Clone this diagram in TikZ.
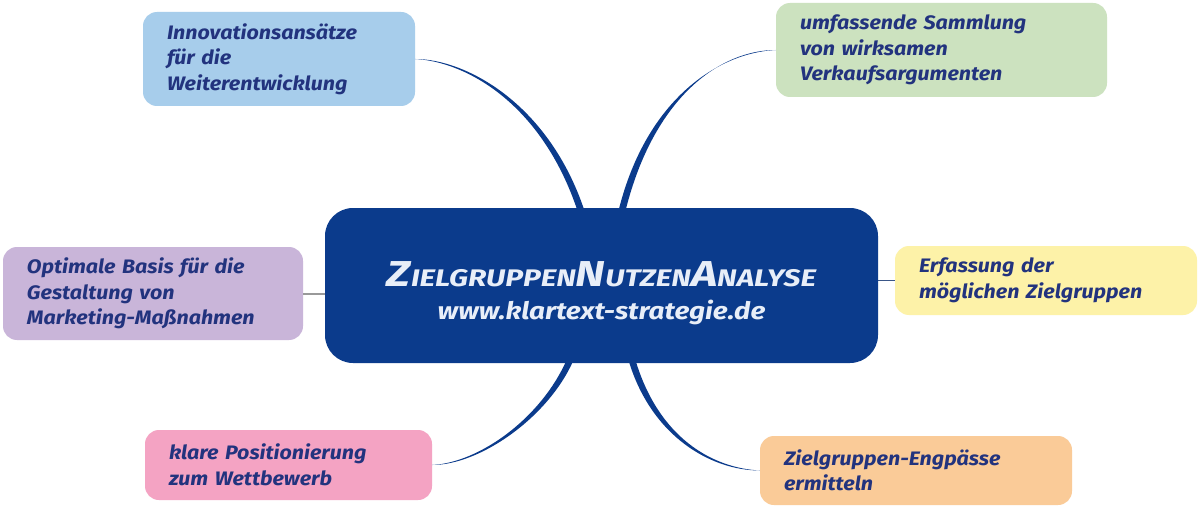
\documentclass[tikz,border=0pt]{standalone}
\usepackage{fontspec}
\setmainfont{Fira Sans}
\newfontfamily\leaffont{Fira Sans}[FakeStretch=1.1]
\usetikzlibrary{calc}
\definecolor{navy}{HTML}{0B3B8C}
\definecolor{txt}{HTML}{22337E}
\definecolor{cblue}{HTML}{A7CDEB}
\definecolor{cgreen}{HTML}{CCE2BF}
\definecolor{cpurple}{HTML}{C9B5D9}
\definecolor{cyellow}{HTML}{FDF2A8}
\definecolor{cpink}{HTML}{F4A3C3}
\definecolor{corange}{HTML}{FACB98}
\definecolor{titlecol}{HTML}{E8EEF8}
\tikzset{
  leaf/.style={rectangle, rounded corners=14pt, inner xsep=24pt, inner ysep=0pt,
    align=left, text=txt, font=\leaffont\fontsize{19.5}{25.5}\selectfont\bfseries\itshape},
  conn/.style={fill=navy, draw=none},
  straight/.style={draw=#1, line width=2pt},
}
\newcommand{\bigC}[1]{{\fontsize{36}{33}\selectfont #1}}
\begin{document}
\begin{tikzpicture}[x=1pt,y=-1pt]
\useasboundingbox[fill=white] (0,0) rectangle (1200,508);

% nodes
\node[leaf, fill=cblue, minimum width=272pt, minimum height=94pt, text width=224pt] (tl) at (279,59)
  {Innovationsansätze\\für die\\Weiterentwicklung};
\node[leaf, fill=cgreen, minimum width=331pt, minimum height=94pt, text width=283pt] (tr) at (941.5,50)
  {umfassende Sammlung\\von wirksamen\\Verkaufsargumenten};
\node[leaf, fill=cpurple, minimum width=300pt, minimum height=93pt, text width=252pt] (lp) at (153,293.5)
  {Optimale Basis für die\\Gestaltung von\\Marketing-Maßnahmen};
\node[leaf, fill=cyellow, minimum width=302pt, minimum height=69pt, text width=254pt] (ry) at (1046,280.5)
  {Erfassung der\\möglichen Zielgruppen};
\node[leaf, fill=cpink, minimum width=287pt, minimum height=70pt, text width=239pt] (bl) at (288.5,465)
  {klare Positionierung\\zum Wettbewerb};
\node[leaf, fill=corange, minimum width=312pt, minimum height=69pt, text width=264pt] (br) at (916,470.5)
  {Zielgruppen-Engpässe\\ermitteln};

% central node geometry (drawn after connectors)
\path (601.5,285.5) node[rectangle, minimum width=553pt, minimum height=155pt, inner sep=0pt] (c) {};

% connectors
\fill[conn] (tl.east) .. controls +(50,0) and +(-36,-108) .. ($(c.north)+(-17,3)$)
  -- ($(c.north)+(-24,3)$) .. controls +(-36,-108) and +(50,2.5) .. (tl.east) -- cycle;
\fill[conn] (tr.west) .. controls +(-56,0) and +(28,-113) .. ($(c.north)+(24,3)$)
  -- ($(c.north)+(17,3)$) .. controls +(28,-113) and +(-56,2.5) .. (tr.west) -- cycle;
\fill[conn] (bl.east) .. controls +(48,0) and +(-25,57) .. ($(c.south)+(-28,-3)$)
  -- ($(c.south)+(-35,-3)$) .. controls +(-25,57) and +(48,-2.5) .. (bl.east) -- cycle;
\fill[conn] (br.west) .. controls +(-48,0) and +(23,77) .. ($(c.south)+(27,-3)$)
  -- ($(c.south)+(34,-3)$) .. controls +(23,77) and +(-48,-2.5) .. (br.west) -- cycle;
\draw[straight=gray!80] (lp.east) -- (lp.east -| c.west);
\draw[draw=navy!60!gray, line width=1.5pt] (ry.west) -- (ry.west -| c.east);

% central box
\node[rectangle, rounded corners=28pt, fill=navy, minimum width=553pt, minimum height=155pt,
  align=center, text=titlecol, inner sep=0pt,
  font=\fontsize{24}{33}\selectfont\bfseries\itshape] (center) at (c)
  {\rule{0pt}{40pt}\scalebox{1.25}[1]{\bigC{Z}IELGRUPPEN\bigC{N}UTZEN\bigC{A}NALYSE}\\
   \scalebox{1.16}[1]{www.klartext-strategie.de}};
\end{tikzpicture}
\end{document}
